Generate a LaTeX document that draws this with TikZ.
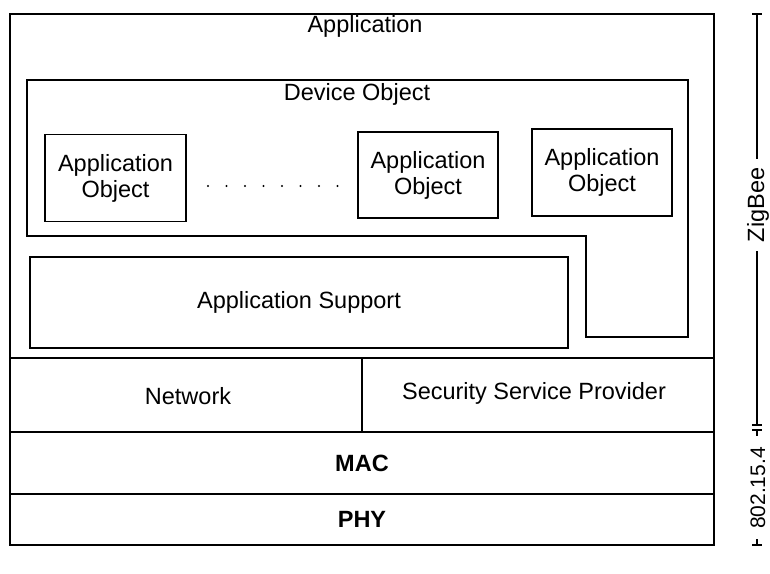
\documentclass[tikz,border=0pt]{standalone}
\usepackage{fontspec}
\setmainfont{Liberation Sans}
\begin{document}
\begin{tikzpicture}[x=1pt,y=-1pt,
  box/.style={draw, line width=1.5pt},
  lbl/.style={font=\fontsize{23.5}{26}\selectfont, align=center, inner sep=0pt},
  objbox/.style={box, lbl, minimum width=141pt, minimum height=87pt},
  rule/.style={line width=1.6pt}]
\useasboundingbox (0,0) rectangle (770,573);
% outer frame
\draw[line width=2.2pt] (10,14) rectangle (714,545);
\node[lbl] (app) at (365,26) {Application};
% device object (L-shaped)
\draw[box] (27,80) -- (688,80) -- (688,337) -- (586,337) -- (586,236) -- (27,236) -- cycle;
\node[lbl] (dev) at (357,94) {Device Object};
\node[objbox] (ao1) at (115.5,178) {Application\\Object};
\node[objbox, minimum width=140pt, minimum height=86pt] (ao2) at (428,175) {Application\\Object};
\node[objbox, minimum width=140pt, minimum height=87pt] (ao3) at (602,172.5) {Application\\Object};
\foreach \i in {0,...,7} \fill (208+\i*18.5,186) circle (1.1pt);
% application support
\node[box, lbl, minimum width=538pt, minimum height=91pt] (aps) at (299,302.5) {Application Support};
% lower layers
\draw[rule] (10,358) -- (714,358);
\draw[rule] (362,358) -- (362,432);
\draw[rule] (10,432) -- (714,432);
\draw[rule] (10,494) -- (714,494);
\node[lbl] (nwk) at (188,396) {Network};
\node[lbl] (ssp) at (534,393) {Security Service Provider};
\node[lbl, font=\fontsize{23.5}{26}\selectfont\bfseries] (mac) at (362,463) {MAC};
\node[lbl, font=\fontsize{23.5}{26}\selectfont\bfseries] (phy) at (362,519) {PHY};
% right-side brackets
\node[lbl, rotate=90, inner xsep=9pt] (zb) at (758,205) {ZigBee};
\node[lbl, rotate=90, font=\fontsize{21}{24}\selectfont] (ieee) at (758,488) {802.15.4};
\coordinate (zt) at (757,14);
\coordinate (zbm) at (757,425);
\coordinate (it) at (757,430);
\coordinate (ib) at (757,545);
\draw[line width=1.2pt] (zt) -- (zt |- zb.east);
\draw[line width=1.2pt] (zbm |- zb.west) -- (zbm);
\draw[line width=1.2pt] ([xshift=-5pt]zt) -- ([xshift=5pt]zt);
\draw[line width=1.2pt] ([xshift=-5pt]zbm) -- ([xshift=5pt]zbm);
\draw[line width=1.2pt] (it) -- ([yshift=-6pt]it);
\draw[line width=1.2pt] ([xshift=-5pt]it) -- ([xshift=5pt]it);
\draw[line width=1.2pt] (ib) -- ([yshift=6pt]ib);
\draw[line width=1.2pt] ([xshift=-5pt]ib) -- ([xshift=5pt]ib);
\end{tikzpicture}
\end{document}
